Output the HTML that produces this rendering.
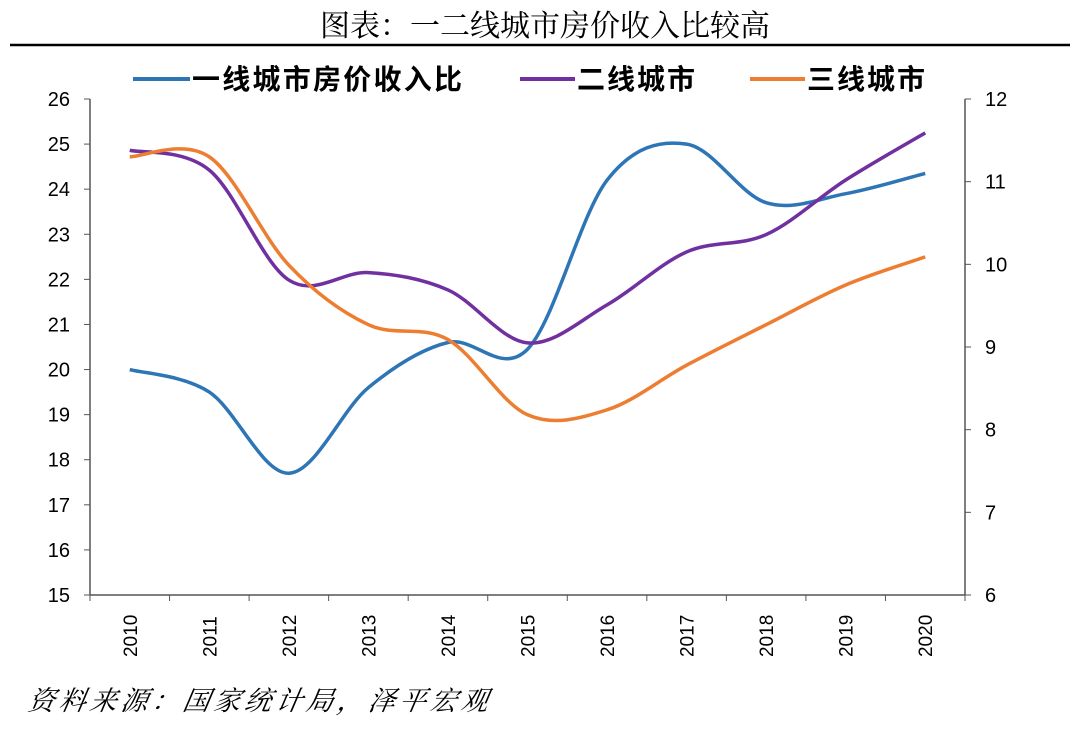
<!DOCTYPE html>
<html><head><meta charset="utf-8"><style>
body{margin:0;background:#fff;width:1080px;height:724px;overflow:hidden;font-family:"Liberation Sans","Noto Sans CJK SC",sans-serif}
</style></head><body>
<svg width="1080" height="724" xmlns="http://www.w3.org/2000/svg" id="chart">
<text x="545" y="36" text-anchor="middle" font-size="30" fill="#000" font-family="Noto Serif CJK SC, serif">图表：一二线城市房价收入比较高</text>
<line x1="10" y1="45" x2="1070" y2="45" stroke="#000" stroke-width="2.5"/>
<g id="axes"></g>
<g id="series"></g>
<g font-size="28" font-weight="bold" fill="#000">
<line x1="133" y1="79" x2="190" y2="79" stroke="#2e75b6" stroke-width="4"/>
<text x="192" y="89" textLength="270">一线城市房价收入比</text>
<line x1="520" y1="79" x2="575" y2="79" stroke="#7030a0" stroke-width="4"/>
<text x="577" y="89" textLength="118">二线城市</text>
<line x1="750" y1="79" x2="805" y2="79" stroke="#ed7d31" stroke-width="4"/>
<text x="807" y="89" textLength="118">三线城市</text>
</g>
<text x="152" y="710" font-size="27" font-style="italic" fill="#000" font-family="Noto Serif CJK SC, serif" transform="skewX(-10)" textLength="460">资料来源：国家统计局，泽平宏观</text>
</svg>
<script>
const categories=["2010","2011","2012","2013","2014","2015","2016","2017","2018","2019","2020"];
const tier1=[20.0,19.5,17.7,19.6,20.6,20.45,24.2,25.0,23.7,23.9,24.35];
const tier2=[11.38,11.14,9.81,9.90,9.69,9.05,9.51,10.15,10.36,11.02,11.59];
const tier3=[11.30,11.30,9.99,9.27,9.09,8.18,8.24,8.78,9.27,9.75,10.09];
const leftTicks=[15,16,17,18,19,20,21,22,23,24,25,26];
const rightTicks=[6,7,8,9,10,11,12];
const NS="http://www.w3.org/2000/svg";
const X0=90,X1=965,Y0=595,Y1=99;
const bw=(X1-X0)/categories.length;
const xs=i=>X0+bw*(i+0.5);
const yL=v=>Y0-(v-15)/(26-15)*(Y0-Y1);
const yR=v=>Y0-(v-6)/(12-6)*(Y0-Y1);
const axes=document.getElementById('axes'),ser=document.getElementById('series');
function mk(tag,attrs,parent,txt){const e=document.createElementNS(NS,tag);for(const k in attrs)e.setAttribute(k,attrs[k]);if(txt!==undefined)e.textContent=txt;parent.appendChild(e);return e;}
let e;
e=mk('line',{x1:X0,y1:Y1,x2:X0,y2:Y0,stroke:'#555','stroke-width':1.5},axes);


e=mk('line',{x1:X1,y1:Y1,x2:X1,y2:Y0,stroke:'#555','stroke-width':1.5},axes);


e=mk('line',{x1:X0,y1:Y0,x2:X1,y2:Y0,stroke:'#555','stroke-width':1.5},axes);


leftTicks.forEach(v=>{const y=yL(v);
mk('line',{x1:X0-6,y1:y,x2:X0,y2:y,stroke:'#555'},axes);
e=mk('text',{x:X0-20,y:y+7,'text-anchor':'end','font-size':20},axes,String(v));

});
rightTicks.forEach(v=>{const y=yR(v);
mk('line',{x1:X1,y1:y,x2:X1+6,y2:y,stroke:'#555'},axes);
e=mk('text',{x:X1+20,y:y+7,'font-size':20},axes,String(v));

});
for(let i=0;i<=categories.length;i++){const x=X0+bw*i;mk('line',{x1:x,y1:Y0,x2:x,y2:Y0+6,stroke:'#555'},axes);}
categories.forEach((c,i)=>{const x=xs(i)+7,y=Y0+62;
e=mk('text',{x:x,y:y,'font-size':19,transform:`rotate(-90 ${x} ${y})`},axes,c);

});
function path(vals,yf){const p=vals.map((v,i)=>[xs(i),yf(v)]);let d=`M${p[0][0]},${p[0][1]}`;
for(let i=0;i<p.length-1;i++){const a=p[Math.max(0,i-1)],b=p[i],c=p[i+1],n=p[Math.min(p.length-1,i+2)];
d+=` C${b[0]+(c[0]-a[0])/6},${b[1]+(c[1]-a[1])/6} ${c[0]-(n[0]-b[0])/6},${c[1]-(n[1]-b[1])/6} ${c[0]},${c[1]}`;}return d;}
[[tier1,yL,'#2e75b6','line-tier1'],[tier2,yR,'#7030a0','line-tier2'],[tier3,yR,'#ed7d31','line-tier3']].forEach(s=>{
e=mk('path',{d:path(s[0],s[1]),fill:'none',stroke:s[2],'stroke-width':3.5},ser);

});
</script>
</body></html>
